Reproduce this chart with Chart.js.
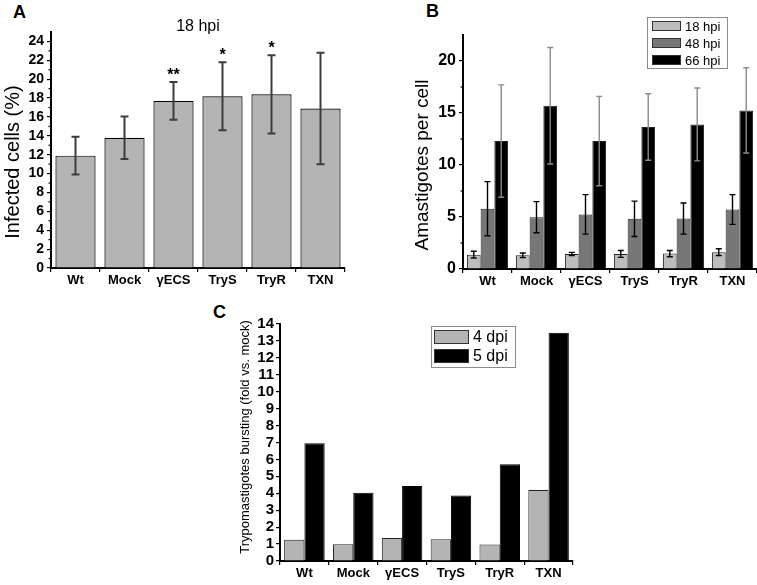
<!DOCTYPE html>
<html>
<head>
<meta charset="utf-8">
<script src="https://cdn.jsdelivr.net/npm/chart.js@4/dist/chart.umd.min.js"></script>
<style>
  body { margin: 0; background: #fff; width: 757px; height: 585px; position: relative; overflow: hidden; font-family: "Liberation Sans", Arial, sans-serif; }
  canvas { position: absolute; }
  .letter { position: absolute; font: bold 18px "Liberation Sans", Arial, sans-serif; line-height: 18px; color: #000; }
</style>
</head>
<body>
<div class="letter" style="left:13px;top:3px">A</div>
<div class="letter" style="left:426px;top:2px">B</div>
<div class="letter" style="left:213px;top:303px">C</div>
<canvas id="chartA" width="380" height="300" style="left:0;top:0"></canvas>
<canvas id="chartB" width="377" height="300" style="left:380px;top:0"></canvas>
<canvas id="chartC" width="400" height="295" style="left:180px;top:290px"></canvas>
<script>
const categories = ["Wt", "Mock", "γECS", "TryS", "TryR", "TXN"];

// A - infected cells (%) at 18 hpi
const infectedMean = [11.9, 13.8, 17.7, 18.2, 18.4, 16.9];
const infectedSd = [2.0, 2.25, 2.0, 3.6, 4.15, 5.9];
const infectedStars = ["", "", "**", "*", "*", ""];

// B - amastigotes per cell
const hpiLabels = ["18 hpi", "48 hpi", "66 hpi"];
const amast18 = [1.38, 1.32, 1.45, 1.45, 1.48, 1.62];
const amast18Sd = [0.32, 0.22, 0.15, 0.33, 0.3, 0.32];
const amast48 = [5.8, 4.98, 5.25, 4.83, 4.85, 5.72];
const amast48Sd = [2.6, 1.5, 1.9, 1.7, 1.5, 1.43];
const amast66 = [12.3, 15.7, 12.3, 13.65, 13.9, 15.25];
const amast66Sd = [5.4, 5.6, 4.3, 3.2, 3.5, 4.1];

// C - trypomastigotes bursting (fold vs. mock)
const dpiLabels = ["4 dpi", "5 dpi"];
const burst4 = [1.26, 0.99, 1.36, 1.28, 0.97, 4.19];
const burst5 = [6.95, 4.03, 4.43, 3.87, 5.71, 13.48];

const FONT = "'Liberation Sans', Arial, sans-serif";
Chart.defaults.font.family = FONT;
Chart.defaults.color = "#000";

// error bars + significance stars
const errorBars = {
	id: "errorBars",
	afterDatasetsDraw(chart) {
		const ctx = chart.ctx;
		const yScale = chart.scales.y;
		chart.data.datasets.forEach((ds, i) => {
			if (!ds.sd) return;
			const meta = chart.getDatasetMeta(i);
			ctx.save();
			ctx.strokeStyle = ds.errColor;
			ctx.lineWidth = ds.errWidth;
			meta.data.forEach((bar, j) => {
				const top = yScale.getPixelForValue(ds.data[j] + ds.sd[j]);
				const bot = yScale.getPixelForValue(ds.data[j] - ds.sd[j]);
				const cap = ds.capWidth / 2;
				ctx.beginPath();
				ctx.moveTo(bar.x, top);
				ctx.lineTo(bar.x, bot);
				ctx.moveTo(bar.x - cap, top);
				ctx.lineTo(bar.x + cap, top);
				ctx.moveTo(bar.x - cap, bot);
				ctx.lineTo(bar.x + cap, bot);
				ctx.stroke();
				if (ds.stars && ds.stars[j]) {
					ctx.fillStyle = "#000";
					ctx.font = "bold 16px " + FONT;
					ctx.textAlign = "center";
					ctx.textBaseline = "alphabetic";
					ctx.fillText(ds.stars[j], bar.x, top - 2);
				}
			});
			ctx.restore();
		});
	},
};

// small extra ticks between the labelled ones on y
const minorTicks = {
	id: "minorTicks",
	afterDraw(chart, args, opts) {
		if (!opts.len) return;
		const y = chart.scales.y;
		const ctx = chart.ctx;
		const x0 = chart.chartArea.left;
		ctx.save();
		ctx.strokeStyle = "#000";
		ctx.lineWidth = 1.2;
		for (let k = 0; k < y.ticks.length - 1; k++) {
			const mid = (y.ticks[k].value + y.ticks[k + 1].value) / 2;
			const py = y.getPixelForValue(mid);
			ctx.beginPath();
			ctx.moveTo(x0 - opts.len, py);
			ctx.lineTo(x0, py);
			ctx.stroke();
		}
		ctx.restore();
	},
};

// free text (titles) and boxed legends
const captions = {
	id: "captions",
	afterDraw(chart, args, opts) {
		const ctx = chart.ctx;
		(opts.items || []).forEach((it) => {
			ctx.save();
			ctx.fillStyle = "#000";
			ctx.font = it.font;
			ctx.textAlign = "center";
			ctx.textBaseline = "middle";
			ctx.translate(it.x, it.y);
			if (it.rotate) ctx.rotate(it.rotate);
			ctx.fillText(it.text, 0, 0);
			ctx.restore();
		});
		const lg = opts.legend;
		if (!lg) return;
		ctx.save();
		ctx.strokeStyle = "#8c8c8c";
		ctx.lineWidth = 1;
		ctx.strokeRect(lg.x + 0.5, lg.y + 0.5, lg.w, lg.h);
		chart.data.datasets.forEach((ds, i) => {
			const cy = lg.y + lg.first + i * lg.step;
			ctx.fillStyle = ds.backgroundColor;
			ctx.fillRect(lg.x + lg.sx, cy - lg.sh / 2, lg.sw, lg.sh);
			ctx.strokeStyle = "#333";
			ctx.lineWidth = 1;
			ctx.strokeRect(lg.x + lg.sx + 0.5, cy - lg.sh / 2 + 0.5, lg.sw - 1, lg.sh - 1);
			ctx.fillStyle = "#000";
			ctx.font = lg.font;
			ctx.textAlign = "left";
			ctx.textBaseline = "middle";
			ctx.fillText(ds.label, lg.x + lg.sx + lg.sw + 4, cy + 1);
		});
		ctx.restore();
	},
};

const xAxis = (h) => ({
	grid: { drawOnChartArea: false, tickLength: 4, color: "#000", lineWidth: 1.2 },
	border: { color: "#000", width: 2 },
	ticks: { font: { weight: "bold", size: 13 }, color: "#000", padding: 1 },
	afterFit(s) { s.height = h; },
});

const yAxis = (w, max, step, size) => ({
	min: 0,
	max: max,
	grid: { drawOnChartArea: false, tickLength: 4, color: "#000", lineWidth: 1.2 },
	border: { color: "#000", width: 2 },
	ticks: { stepSize: step, includeBounds: false, autoSkip: false, font: { weight: "bold", size: size }, color: "#000", padding: 3 },
	afterBuildTicks(s) { s.ticks = s.ticks.filter((t) => Math.abs(t.value / step - Math.round(t.value / step)) < 1e-6); },
	afterFit(s) { s.width = w; },
});

const baseOptions = (padding) => ({
	responsive: false,
	animation: false,
	layout: { padding: padding },
	plugins: { legend: { display: false }, tooltip: { enabled: false } },
});

const initA = () => {
	const opts = baseOptions({ top: 32, right: 35, left: 0, bottom: 0 });
	opts.scales = { x: xAxis(32), y: yAxis(51, 25, 2, 14) };
	opts.plugins.minorTicks = { len: 2.5 };
	opts.plugins.captions = {
		items: [
			{ text: "18 hpi", x: 198, y: 27, font: "16px " + FONT },
			{ text: "Infected cells (%)", x: 13, y: 162, font: "20px " + FONT, rotate: -Math.PI / 2 },
		],
	};
	return new Chart(document.getElementById("chartA"), {
		type: "bar",
		data: {
			labels: categories,
			datasets: [
				{
					data: infectedMean,
					sd: infectedSd,
					stars: infectedStars,
					backgroundColor: "#b4b4b4",
					borderColor: "#000",
					borderWidth: 1.2,
					errColor: "#3c3c3c",
					errWidth: 2,
					capWidth: 8,
					barPercentage: 0.82,
					categoryPercentage: 1,
				},
			],
		},
		options: opts,
		plugins: [errorBars, minorTicks, captions],
	});
};

const initB = () => {
	const opts = baseOptions({ top: 35, right: 0, left: 0, bottom: 0 });
	opts.scales = { x: xAxis(31), y: yAxis(83, 22.5, 5, 16) };
	opts.plugins.minorTicks = { len: 2.5 };
	opts.plugins.captions = {
		items: [
			{ text: "Amastigotes per cell", x: 43, y: 165, font: "19px " + FONT, rotate: -Math.PI / 2 },
		],
		legend: { x: 267, y: 17, w: 80, h: 51, first: 9, step: 17, sx: 5, sw: 29, sh: 10, font: "13px " + FONT },
	};
	const common = { borderColor: "#222", borderWidth: 1, categoryPercentage: 0.84, barPercentage: 1, capWidth: 6, errWidth: 1.4 };
	return new Chart(document.getElementById("chartB"), {
		type: "bar",
		data: {
			labels: categories,
			datasets: [
				{ ...common, label: hpiLabels[0], data: amast18, sd: amast18Sd, backgroundColor: "#bdbdbd", errColor: "#000" },
				{ ...common, label: hpiLabels[1], data: amast48, sd: amast48Sd, backgroundColor: "#777777", errColor: "#000" },
				{ ...common, label: hpiLabels[2], data: amast66, sd: amast66Sd, backgroundColor: "#000000", errColor: "#8a8a8a" },
			],
		},
		options: opts,
		plugins: [errorBars, minorTicks, captions],
	});
};

const initC = () => {
	const opts = baseOptions({ top: 34, right: 7, left: 0, bottom: 0 });
	opts.scales = { x: xAxis(24), y: yAxis(100, 14, 1, 15) };
	opts.scales.y.ticks.padding = 2;
	opts.plugins.captions = {
		items: [
			{ text: "Trypomastigotes bursting (fold vs. mock)", x: 65, y: 147, font: "13px " + FONT, rotate: -Math.PI / 2 },
		],
		legend: { x: 251, y: 36, w: 84, h: 41, first: 11, step: 19, sx: 3, sw: 35, sh: 14, font: "16px " + FONT },
	};
	return new Chart(document.getElementById("chartC"), {
		type: "bar",
		data: {
			labels: categories,
			datasets: [
				{ label: dpiLabels[0], data: burst4, backgroundColor: "#b4b4b4", borderColor: "#222", borderWidth: 1, categoryPercentage: 0.83, barPercentage: 1 },
				{ label: dpiLabels[1], data: burst5, backgroundColor: "#000000", borderColor: "#000", borderWidth: 1, categoryPercentage: 0.83, barPercentage: 1 },
			],
		},
		options: opts,
		plugins: [captions],
	});
};

window.onload = () => {
	initA();
	initB();
	initC();
};
</script>
</body>
</html>
